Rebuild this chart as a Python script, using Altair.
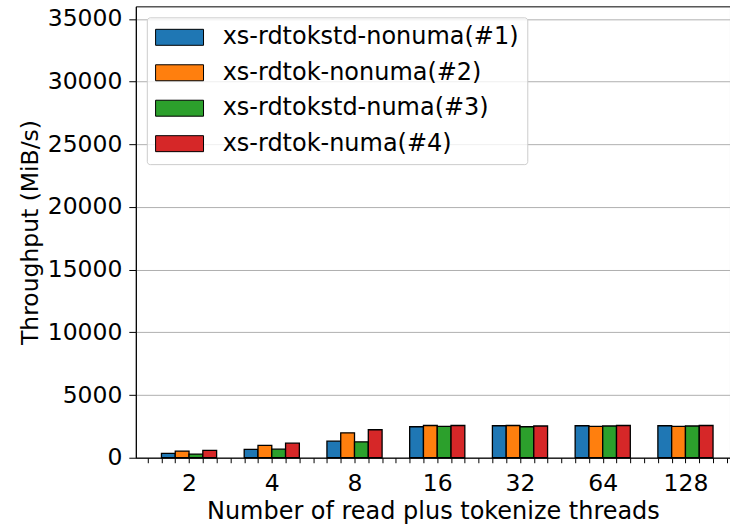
import altair as alt
import pandas as pd

threads = ["2", "4", "8", "16", "32", "64", "128"]
series = ["xs-rdtokstd-nonuma(#1)", "xs-rdtok-nonuma(#2)", "xs-rdtokstd-numa(#3)", "xs-rdtok-numa(#4)"]
colors = ["#1f77b4", "#ff7f0e", "#2ca02c", "#d62728"]

v1 = [340, 660, 1320, 2470, 2550, 2550, 2550]
v2 = [530, 980, 1990, 2570, 2570, 2500, 2500]
v3 = [290, 680, 1270, 2500, 2470, 2530, 2530]
v4 = [580, 1160, 2230, 2570, 2530, 2570, 2570]
values = [v1, v2, v3, v4]

rows = []
for g, t in enumerate(threads):
    for s, name in enumerate(series):
        rows.append({
            "threads": t,
            "series": name,
            "order": s,
            "x0": 6 * g + 1 + s,
            "x1": 6 * g + 2 + s,
            "value": values[s][g],
            "base": 0,
        })
df = pd.DataFrame(rows)

FONT = "DejaVu Sans"
FS = 23.5
LFS = 24
label_expr = "datum.value % 6 == 3 ? " + str(threads) + "[(datum.value - 3) / 6] : ''"

chart = alt.Chart(df).mark_bar(stroke="black", strokeWidth=1.3).encode(
    x=alt.X("x0:Q",
            scale=alt.Scale(domain=[-0.86, 42.23], nice=False, zero=False),
            axis=alt.Axis(title="Number of read plus tokenize threads",
                          values=list(range(0, 43)), labelExpr=label_expr,
                          grid=False, tickSize=5, labelPadding=9,
                          labelFlush=False, labelOverlap=False, titlePadding=4,
                          titleFontSize=24)),
    x2="x1:Q",
    y=alt.Y("value:Q",
            scale=alt.Scale(domain=[0, 36000], nice=False),
            axis=alt.Axis(title="Throughput (MiB/s)", values=list(range(0, 35001, 5000)),
                          grid=True, tickSize=7, labelPadding=7, format="d",
                          titlePadding=5)),
    y2="base:Q",
    color=alt.Color("series:N", sort=series,
                    scale=alt.Scale(domain=series, range=colors),
                    legend=alt.Legend(title=None, orient="none", legendX=11, legendY=11,
                                      symbolType="M-1.4,-1H4.6V1H-1.4Z",
                                      symbolSize=256, symbolStrokeColor="black",
                                      symbolStrokeWidth=1, symbolOpacity=1,
                                      labelFontSize=LFS, labelFont=FONT, labelColor="black",
                                      labelLimit=0,
                                      rowPadding=11.5, padding=8, labelOffset=44,
                                      strokeColor="#cccccc", cornerRadius=3,
                                      fillColor="rgba(255,255,255,0.8)")),
    order=alt.Order("order:Q"),
).properties(
    width=595, height=452,
    padding={"left": 136, "top": 6, "right": 0, "bottom": 69},
    autosize=alt.AutoSizeParams(type="none"),
).configure_view(
    stroke="black", strokeWidth=1
).configure_axis(
    labelFont=FONT, titleFont=FONT, labelFontSize=FS, titleFontSize=FS,
    labelColor="black", titleColor="black", titleFontWeight="normal",
    domainColor="black", tickColor="black", gridColor="#b0b0b0", gridWidth=1,
    domainWidth=1, tickWidth=1
)

chart.save("out.html", embed_options={"renderer": "svg", "actions": False})
